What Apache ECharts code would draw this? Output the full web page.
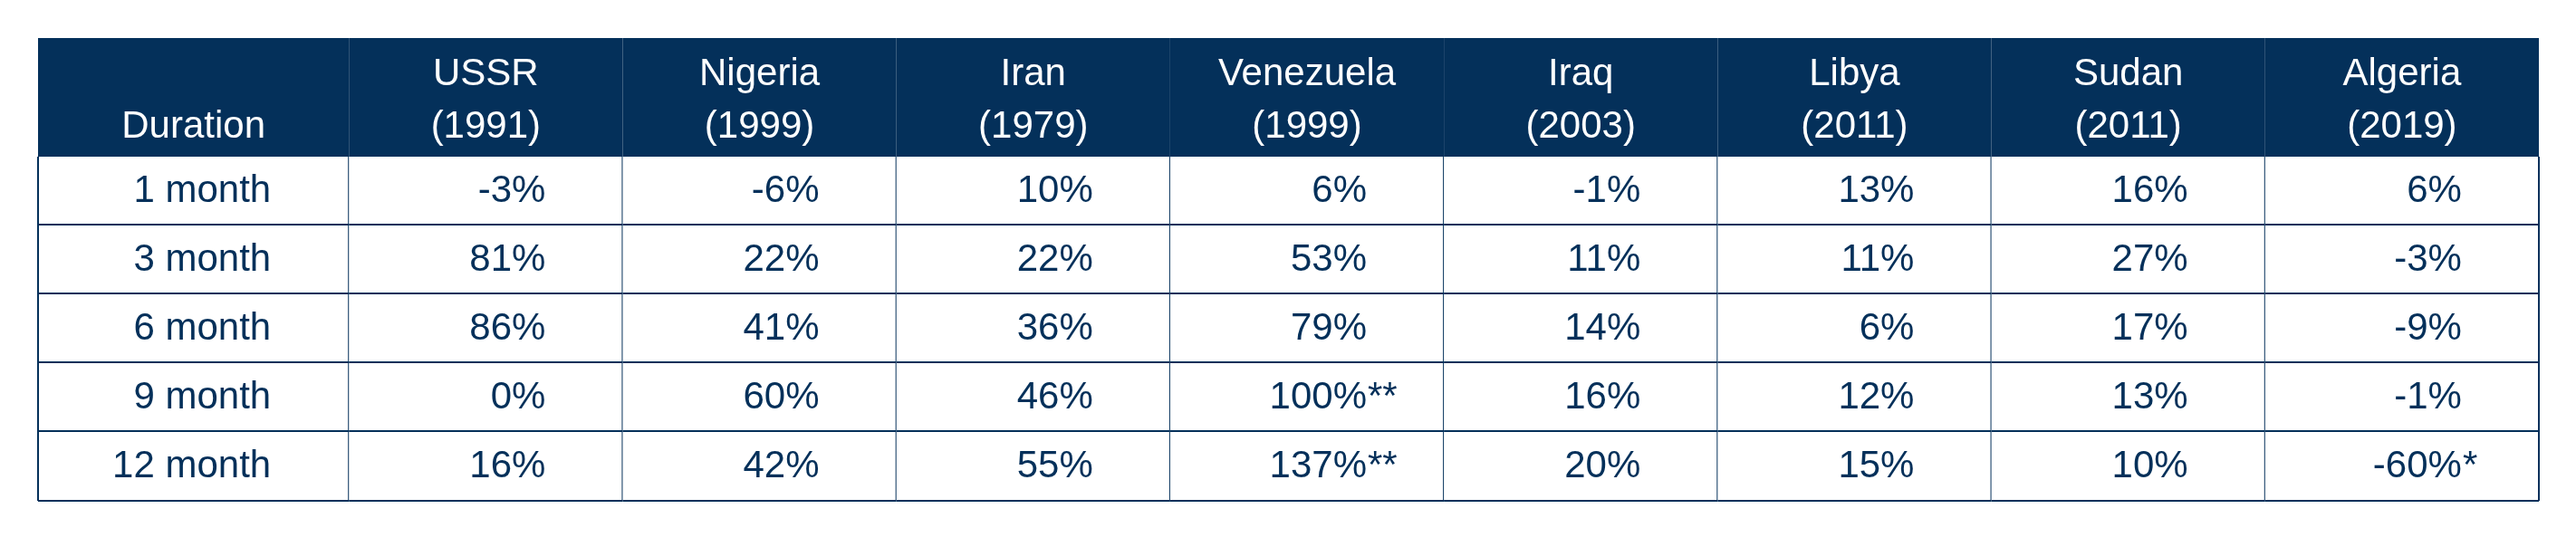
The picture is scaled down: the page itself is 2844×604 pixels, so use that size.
<!DOCTYPE html>
<html><head><meta charset="utf-8">
<script src="https://cdn.jsdelivr.net/npm/echarts@6/dist/echarts.min.js"></script>
<style>html,body{margin:0;background:#fff}#c{width:2844px;height:604px}</style>
</head><body><div id="c"></div>
<script>
const countries = ['USSR','Nigeria','Iran','Venezuela','Iraq','Libya','Sudan','Algeria'];
const years = ['1991','1999','1979','1999','2003','2011','2011','2019'];
const durations = ['1 month','3 month','6 month','9 month','12 month'];
const ussr = [-3,81,86,0,16];
const nigeria = [-6,22,41,60,42];
const iran = [10,22,36,46,55];
const venezuela = [6,53,79,100,137];
const iraq = [-1,11,14,16,20];
const libya = [13,11,6,12,15];
const sudan = [16,27,17,13,10];
const algeria = [6,-3,-9,-1,-60];
const venezuelaNotes = ['','','','**','**'];
const algeriaNotes = ['','','','','*'];
const series = [ussr,nigeria,iran,venezuela,iraq,libya,sudan,algeria];
const notes = {3:venezuelaNotes, 7:algeriaNotes};
const headerTitle = 'Duration';

const NAVY = '#04305A';
const FONT = '"Liberation Sans", Arial, sans-serif';
const FS = 42;

const xCats = ['Duration'].concat(countries);
const yCats = ['header'].concat(durations);
const data = [];
// header row
xCats.forEach((c,i)=>data.push([i,0,'header']));
durations.forEach((d,r)=>{
  data.push([0,r+1,'label']);
  series.forEach((s,ci)=>data.push([ci+1,r+1,'val']));
});

function renderItem(params, api){
  const col = api.value(0), row = api.value(1);
  const c = api.coord([col,row]);
  const sz = api.size([1,1]);
  let x0 = c[0]-sz[0]/2, x1 = c[0]+sz[0]/2;
  let y0 = c[1]-sz[1]/2, y1 = c[1]+sz[1]/2;
  if (col===0) x0 -= 41;
  if (row===0) y0 -= 55;
  const cx = c[0];
  const kids = [];
  if (row===0){
    kids.push({type:'rect',shape:{x:x0,y:y0,width:x1-x0,height:y1-y0},style:{fill:NAVY}});
    if (col===0){
      kids.push({type:'text',style:{text:headerTitle,x:(x0+x1)/2,y:y1-33,align:'center',verticalAlign:'middle',fill:'#fff',font:`500 ${FS}px ${FONT}`}});
    } else {
      kids.push({type:'text',style:{text:countries[col-1],x:cx,y:y1-91,align:'center',verticalAlign:'middle',fill:'#fff',font:`500 ${FS}px ${FONT}`}});
      kids.push({type:'text',style:{text:'('+years[col-1]+')',x:cx,y:y1-33,align:'center',verticalAlign:'middle',fill:'#fff',font:`500 ${FS}px ${FONT}`}});
    }
    return {type:'group',children:kids};
  }
  kids.push({type:'rect',shape:{x:x0,y:y0,width:x1-x0,height:y1-y0},style:{fill:'#fff'}});
  const yc = (y0+y1)/2;
  if (col===0){
    kids.push({type:'text',style:{text:durations[row-1],x:x1-86,y:yc,align:'right',verticalAlign:'middle',fill:NAVY,font:`${FS}px ${FONT}`}});
    kids.push({type:'line',shape:{x1:x0,y1:y0,x2:x0,y2:y1},style:{stroke:NAVY,lineWidth:2}});
  } else {
    const v = series[col-1][row-1];
    kids.push({type:'text',style:{text:v+'%',x:cx+66,y:yc,align:'right',verticalAlign:'middle',fill:NAVY,font:`${FS}px ${FONT}`}});
    const n = notes[col-1] ? notes[col-1][row-1] : '';
    if (n) kids.push({type:'text',style:{text:n,x:cx+67,y:yc,align:'left',verticalAlign:'middle',fill:NAVY,font:`${FS}px ${FONT}`}});
  }
  kids.push({type:'line',shape:{x1:x1,y1:y0,x2:x1,y2:y1},style:{stroke:NAVY,lineWidth:2}});
  kids.push({type:'line',shape:{x1:x0,y1:y1,x2:x1,y2:y1},style:{stroke:NAVY,lineWidth:row===durations.length?2:4}});
  return {type:'group',children:kids};
}

const chart = echarts.init(document.getElementById('c'));
chart.setOption({
  animation:false,
  grid:{left:83,right:41,top:97,bottom:51},
  xAxis:{type:'category',data:xCats,show:false},
  yAxis:{type:'category',data:yCats,inverse:true,show:false},
  series:[{type:'custom',renderItem,data,clip:false}]
});
</script></body></html>
